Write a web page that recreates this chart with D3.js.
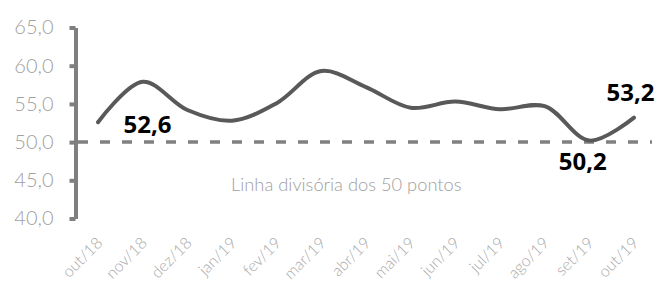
<!DOCTYPE html>
<html><head><meta charset="utf-8">
<script src="https://cdn.jsdelivr.net/npm/d3@7"></script>
<style>body{margin:0;background:#fff}svg{display:block}</style>
</head><body>
<svg id="c" width="658" height="282"></svg>
<script>
const months = ["out/18","nov/18","dez/18","jan/19","fev/19","mar/19","abr/19","mai/19","jun/19","jul/19","ago/19","set/19","out/19"];
const values = [52.6,57.9,54.2,52.8,55.1,59.3,57.2,54.5,55.3,54.3,54.7,50.2,53.2];
const yTicks = [40,45,50,55,60,65];
const threshold = 50;
const thresholdLabel = "Linha divisória dos 50 pontos";
const callouts = [{i:0,text:"52,6",dx:49.5,dy:11},{i:11,text:"50,2",dx:-6.5,dy:29},{i:12,text:"53,2",dx:-3.5,dy:-17}];

const svg = d3.select("#c");
const x = d3.scalePoint().domain(months).range([98,634]);
const y = d3.scaleLinear().domain([40,65]).range([218.5,27.5]);
const fmt = v => v.toFixed(1).replace(".",",");

// y axis
const ya = svg.append("g").attr("transform","translate(75.5,0)")
  .call(d3.axisLeft(y).tickValues(yTicks).tickSize(6).tickSizeOuter(0).tickFormat(fmt).tickPadding(16));
ya.select(".domain").attr("stroke","#7f7f7f").attr("stroke-width",4);
ya.selectAll(".tick line").attr("stroke","#7f7f7f").attr("stroke-width",4);
ya.selectAll(".tick text").attr("fill","#a0a0a0").attr("font-family","Lato").attr("font-weight",300).attr("font-size",20);

// threshold line
svg.append("line").attr("x1",78).attr("x2",652).attr("y1",y(threshold)).attr("y2",y(threshold))
  .attr("stroke","#808080").attr("stroke-width",3.5).attr("stroke-dasharray","10,12");
svg.append("text").attr("x",231).attr("y",191).text(thresholdLabel)
  .attr("fill","#a0a0a0").attr("font-family","Lato").attr("font-weight",300).attr("font-size",18.3);

// x labels
const xa = svg.append("g").attr("transform","translate(0,232)")
  .call(d3.axisBottom(x).tickSize(0).tickPadding(0));
xa.select(".domain").remove();
xa.selectAll(".tick text").attr("text-anchor","end").attr("dy",0)
  .attr("transform","translate(5,12) rotate(-45)")
  .attr("fill","#a8a8a8").attr("font-family","Lato").attr("font-weight",300).attr("font-size",16);

// line
const line = d3.line().x((d,i)=>x(months[i])).y(d=>y(d)).curve(d3.curveCatmullRom.alpha(0.5));
svg.append("path").datum(values).attr("d",line).attr("fill","none")
  .attr("stroke","#595959").attr("stroke-width",4).attr("stroke-linecap","round");

// callouts
svg.selectAll(".cl").data(callouts).join("text")
  .attr("x",d=>x(months[d.i])+d.dx).attr("y",d=>y(values[d.i])+d.dy)
  .attr("text-anchor","middle").text(d=>d.text)
  .attr("font-family","Open Sans").attr("font-weight",700).attr("font-size",24).attr("fill","#000");
</script>
</body></html>
